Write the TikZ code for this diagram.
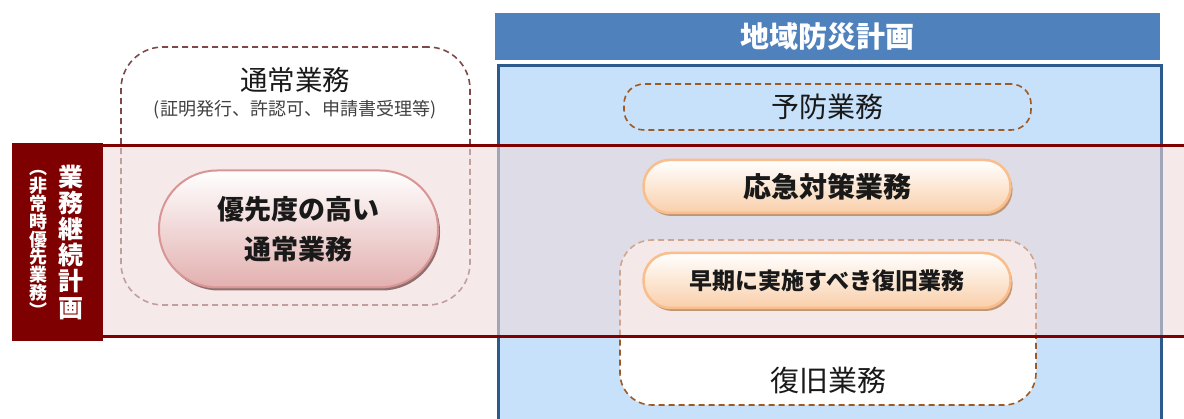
\documentclass[tikz,border=0pt]{standalone}
\usepackage{fontspec}
\setmainfont{Noto Sans CJK JP}
\usetikzlibrary{shadows}
\newcommand\mytightlines{\lineskiplimit-30pt\relax}
\definecolor{hdr}{HTML}{4F81BD}
\definecolor{bluefill}{HTML}{C6E1F9}
\definecolor{blueborder}{HTML}{2C5A8C}
\definecolor{dred}{HTML}{7F0000}
\definecolor{bandc}{RGB}{238,218,218}
\definecolor{dashA}{HTML}{9E5A22}
\definecolor{dashB}{HTML}{7F4848}
\definecolor{pinkb}{HTML}{D99594}
\definecolor{pinkf}{HTML}{E2B0AF}
\definecolor{peachb}{HTML}{F9BE8C}
\definecolor{peachf}{HTML}{F9CFAA}
\definecolor{subgray}{HTML}{404040}
\tikzset{
  dashbox/.style={draw, dash pattern=on 6pt off 4pt, line width=1.6pt},
  pinkpill/.style={draw=pinkb, line width=2pt, top color=white, bottom color=pinkf,
     drop shadow={shadow xshift=2pt, shadow yshift=-3pt, fill=black!45!pinkb, opacity=0.8}},
  peachpill/.style={draw=peachb, line width=2.5pt, top color=white, bottom color=peachf,
     drop shadow={shadow xshift=2pt, shadow yshift=-3pt, fill=black!25!peachb, opacity=0.9}},
  pilltext/.style={font=\bfseries\fontsize{27}{40}\selectfont, text=black!90, align=center},
  plaintext/.style={font=\fontsize{28}{30}\selectfont, text=black!90},
  vtext/.style={text=white, align=center, inner sep=0pt}
}
\begin{document}
\begin{tikzpicture}[x=1pt,y=-1pt]
\useasboundingbox (0,0) rectangle (1184,419);
\clip (0,0) rectangle (1184,419);
% blue area
\node[draw=blueborder, fill=bluefill, line width=3pt, minimum width=663pt, minimum height=370pt, anchor=north west, inner sep=0pt] (bluebox) at (496.5,64.5) {};
\node[fill=hdr, minimum width=665pt, minimum height=47pt, anchor=north west, inner sep=0pt] (hdrbar) at (495,13) {};
\node[text=white, font=\bfseries\fontsize{29}{29}\selectfont] (hdrtext) at (hdrbar.center) {地域防災計画};
% dashed boxes
\node[dashbox, draw=dashA, rounded corners=20pt, minimum width=407pt, minimum height=46pt] (yobou) at (827.5,107) {};
\node[dashbox, draw=dashA, fill=white, rounded corners=32pt, minimum width=416pt, minimum height=165pt] (fukkyu) at (828,322.5) {};
\node[dashbox, draw=dashB, rounded corners=42pt, minimum width=349pt, minimum height=258pt] (tsujo) at (295.5,176) {};
% band
\fill[bandc, opacity=0.6] (102,146) rectangle (1184,337);
\coordinate (bandTL) at (102,146);
\coordinate (bandTR) at (1184,146);
\coordinate (bandBL) at (102,337);
\coordinate (bandBR) at (1184,337);
\draw[dred, line width=3pt] (bandTL) -- (bandTR);
\draw[dred, line width=3pt] (bandBL) -- (bandBR);
% left block
\node[fill=dred, minimum width=91pt, minimum height=198pt, anchor=north west, inner sep=0pt] (bcp) at (11.5,143) {};
\node[vtext, font=\bfseries\fontsize{25}{26.2}\selectfont\mytightlines] (bcpT) at (71,242) {業\\務\\継\\続\\計\\画};
\node[vtext, font=\bfseries\fontsize{18}{17.8}\selectfont\mytightlines] (bcpS) at (39,244) {︵\\非\\常\\時\\優\\先\\業\\務\\︶};
% pills
\node[pinkpill, rounded corners=58pt, minimum width=279pt, minimum height=117pt] (prio) at (298.5,229) {};
\node[pilltext] (prioT) at (prio.center) {優先度の高い\\通常業務};
\node[peachpill, rounded corners=26pt, minimum width=367pt, minimum height=53pt] (okyu) at (827,186.5) {};
\node[pilltext, font=\bfseries\fontsize{28}{30}\selectfont] (okyuT) at (okyu.center) {応急対策業務};
\node[peachpill, rounded corners=27pt, minimum width=367pt, minimum height=55pt] (soki) at (827,280.5) {};
\node[pilltext, font=\bfseries\fontsize{23}{30}\selectfont] (sokiT) at (soki.center) {早期に実施すべき復旧業務};
% texts
\node[plaintext, font=\fontsize{27.5}{30}\selectfont] (tsujoT) at (295,80) {通常業務};
\node[font=\fontsize{18}{20}\selectfont, text=subgray] (tsujoS) at (295,110) {(証明発行、許認可、申請書受理等)};
\node[plaintext] (yobouT) at (yobou.center) {予防業務};
\node[plaintext, font=\fontsize{29}{30}\selectfont] (fukkyuT) at (828,380) {復旧業務};
\end{tikzpicture}
\end{document}
